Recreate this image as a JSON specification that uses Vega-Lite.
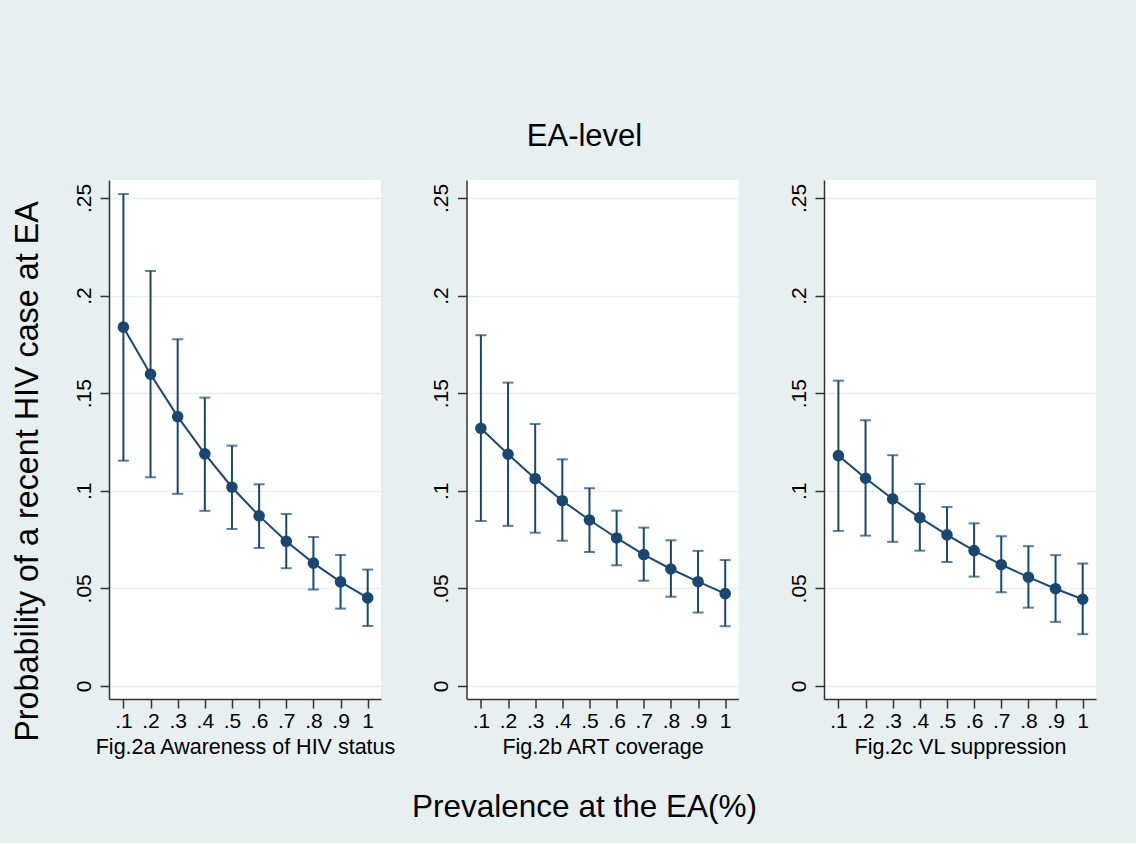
{
  "$schema": "https://vega.github.io/schema/vega-lite/v6.json",
  "background": "#e8eff1",
  "padding": {"left": 10, "top": 121, "right": 41, "bottom": 20},
  "config": {
    "font": "Liberation Sans",
    "view": {"stroke": null, "fill": "white"},
    "axis": {
      "domainColor": "#333333", "domainWidth": 1.5,
      "tickColor": "#333333", "tickWidth": 1.5, "tickSize": 9,
      "labelFontSize": 21, "labelColor": "black",
      "titleFontSize": 21.5, "titleFontWeight": "normal", "titleColor": "black",
      "labelExpr": "replace(format(datum.value, '.2~f'), '0.', '.')",
      "labelFlush": false, "labelOverlap": false
    },
    "axisY": {
      "tickCount": 6, "labelAngle": 270, "labelAlign": "center", "labelBaseline": "alphabetic",
      "labelPadding": 10, "grid": true, "gridColor": "#e6eef1", "gridWidth": 1.5,
      "titleFontSize": 32.3, "titlePadding": 29
    },
    "axisX": {"tickCount": 10, "grid": false, "labelPadding": 2, "titlePadding": 5}
  },
  "data": {"values": [
    {"panel": "a", "x": 0.1, "p": 0.1838, "lo": 0.1154, "hi": 0.2520},
    {"panel": "a", "x": 0.2, "p": 0.1597, "lo": 0.1069, "hi": 0.2126},
    {"panel": "a", "x": 0.3, "p": 0.1380, "lo": 0.0984, "hi": 0.1776},
    {"panel": "a", "x": 0.4, "p": 0.1189, "lo": 0.0897, "hi": 0.1477},
    {"panel": "a", "x": 0.5, "p": 0.1018, "lo": 0.0804, "hi": 0.1231},
    {"panel": "a", "x": 0.6, "p": 0.0871, "lo": 0.0707, "hi": 0.1033},
    {"panel": "a", "x": 0.7, "p": 0.0741, "lo": 0.0603, "hi": 0.0881},
    {"panel": "a", "x": 0.8, "p": 0.0629, "lo": 0.0494, "hi": 0.0763},
    {"panel": "a", "x": 0.9, "p": 0.0533, "lo": 0.0396, "hi": 0.0671},
    {"panel": "a", "x": 1.0, "p": 0.0451, "lo": 0.0307, "hi": 0.0596},
    {"panel": "b", "x": 0.1, "p": 0.1320, "lo": 0.0845, "hi": 0.1797},
    {"panel": "b", "x": 0.2, "p": 0.1187, "lo": 0.0820, "hi": 0.1554},
    {"panel": "b", "x": 0.3, "p": 0.1062, "lo": 0.0785, "hi": 0.1342},
    {"panel": "b", "x": 0.4, "p": 0.0949, "lo": 0.0744, "hi": 0.1161},
    {"panel": "b", "x": 0.5, "p": 0.0850, "lo": 0.0686, "hi": 0.1013},
    {"panel": "b", "x": 0.6, "p": 0.0758, "lo": 0.0618, "hi": 0.0898},
    {"panel": "b", "x": 0.7, "p": 0.0673, "lo": 0.0539, "hi": 0.0811},
    {"panel": "b", "x": 0.8, "p": 0.0599, "lo": 0.0457, "hi": 0.0746},
    {"panel": "b", "x": 0.9, "p": 0.0534, "lo": 0.0376, "hi": 0.0692},
    {"panel": "b", "x": 1.0, "p": 0.0473, "lo": 0.0306, "hi": 0.0645},
    {"panel": "c", "x": 0.1, "p": 0.1180, "lo": 0.0794, "hi": 0.1564},
    {"panel": "c", "x": 0.2, "p": 0.1064, "lo": 0.0770, "hi": 0.1361},
    {"panel": "c", "x": 0.3, "p": 0.0958, "lo": 0.0738, "hi": 0.1182},
    {"panel": "c", "x": 0.4, "p": 0.0862, "lo": 0.0693, "hi": 0.1035},
    {"panel": "c", "x": 0.5, "p": 0.0774, "lo": 0.0635, "hi": 0.0917},
    {"panel": "c", "x": 0.6, "p": 0.0693, "lo": 0.0560, "hi": 0.0833},
    {"panel": "c", "x": 0.7, "p": 0.0621, "lo": 0.0480, "hi": 0.0767},
    {"panel": "c", "x": 0.8, "p": 0.0557, "lo": 0.0401, "hi": 0.0716},
    {"panel": "c", "x": 0.9, "p": 0.0498, "lo": 0.0328, "hi": 0.0670},
    {"panel": "c", "x": 1.0, "p": 0.0444, "lo": 0.0265, "hi": 0.0627}
  ]},
  "title": {"text": "EA-level", "fontSize": 31, "fontWeight": "normal", "color": "black", "anchor": "middle", "offset": 27, "dx": 31},
  "vconcat": [{
    "title": {"text": "Prevalence at the EA(%)", "orient": "bottom", "fontSize": 31.5, "fontWeight": "normal", "color": "black", "anchor": "middle", "offset": 34, "dx": 31},
    "spacing": 85.5,
    "bounds": "flush",
    "hconcat": [
      {
        "width": 272, "height": 519,
        "transform": [{"filter": "datum.panel == 'a'"}],
        "encoding": {
          "x": {"field": "x", "type": "quantitative", "title": "Fig.2a Awareness of HIV status", "scale": {"domain": [0.047, 1.049], "nice": false, "zero": false}},
          "y": {"field": "p", "type": "quantitative", "title": "Probability of a recent HIV case at EA", "axis": {"titleY": 291}, "scale": {"domain": [-0.0067, 0.2592], "nice": false, "zero": false}}
        },
        "layer": [
          {"mark": {"type": "errorbar", "ticks": true, "size": 11, "thickness": 2, "color": "#1a476f"},
           "encoding": {"y": {"field": "lo", "type": "quantitative", "title": "Probability of a recent HIV case at EA", "axis": {"titleY": 291}, "scale": {"domain": [-0.0067, 0.2592], "nice": false, "zero": false}}, "y2": {"field": "hi"}}},
          {"mark": {"type": "line", "color": "#1a476f", "strokeWidth": 2}},
          {"mark": {"type": "point", "filled": true, "opacity": 1, "size": 135, "color": "#1a476f"}}
        ]
      },
      {
        "width": 272, "height": 519,
        "transform": [{"filter": "datum.panel == 'b'"}],
        "encoding": {
          "x": {"field": "x", "type": "quantitative", "title": "Fig.2b ART coverage", "scale": {"domain": [0.047, 1.049], "nice": false, "zero": false}},
          "y": {"field": "p", "type": "quantitative", "title": null, "scale": {"domain": [-0.0067, 0.2592], "nice": false, "zero": false}}
        },
        "layer": [
          {"mark": {"type": "errorbar", "ticks": true, "size": 11, "thickness": 2, "color": "#1a476f"},
           "encoding": {"y": {"field": "lo", "type": "quantitative", "title": null, "scale": {"domain": [-0.0067, 0.2592], "nice": false, "zero": false}}, "y2": {"field": "hi"}}},
          {"mark": {"type": "line", "color": "#1a476f", "strokeWidth": 2}},
          {"mark": {"type": "point", "filled": true, "opacity": 1, "size": 135, "color": "#1a476f"}}
        ]
      },
      {
        "width": 272, "height": 519,
        "transform": [{"filter": "datum.panel == 'c'"}],
        "encoding": {
          "x": {"field": "x", "type": "quantitative", "title": "Fig.2c VL suppression", "scale": {"domain": [0.047, 1.049], "nice": false, "zero": false}},
          "y": {"field": "p", "type": "quantitative", "title": null, "scale": {"domain": [-0.0067, 0.2592], "nice": false, "zero": false}}
        },
        "layer": [
          {"mark": {"type": "errorbar", "ticks": true, "size": 11, "thickness": 2, "color": "#1a476f"},
           "encoding": {"y": {"field": "lo", "type": "quantitative", "title": null, "scale": {"domain": [-0.0067, 0.2592], "nice": false, "zero": false}}, "y2": {"field": "hi"}}},
          {"mark": {"type": "line", "color": "#1a476f", "strokeWidth": 2}},
          {"mark": {"type": "point", "filled": true, "opacity": 1, "size": 135, "color": "#1a476f"}}
        ]
      }
    ]
  }]
}
